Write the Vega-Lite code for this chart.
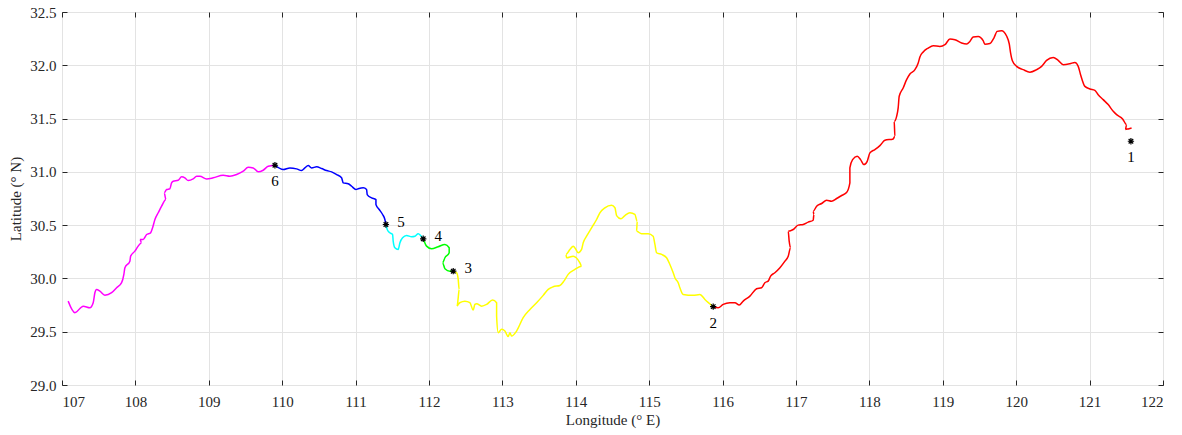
{
  "$schema": "https://vega.github.io/schema/vega-lite/v6.json",
  "autosize": {"type": "none"},
  "width": 1101,
  "height": 373,
  "padding": {"left": 62, "top": 12, "right": 19, "bottom": 50},
  "background": "white",
  "config": {
    "view": {"stroke": "#262626", "strokeWidth": 1},
    "font": "Liberation Serif",
    "axis": {
      "labelFont": "Liberation Serif",
      "titleFont": "Liberation Serif",
      "labelFontSize": 15,
      "titleFontSize": 15,
      "titleFontWeight": "normal",
      "labelColor": "#262626",
      "titleColor": "#262626",
      "domainColor": "#262626",
      "tickColor": "#262626",
      "gridColor": "#e3e3e3",
      "gridWidth": 1
    }
  },
  "datasets": {
    "route": [
      {"seg": "6–W", "i": 1, "lon": 107.084, "lat": 29.787},
      {"seg": "6–W", "i": 2, "lon": 107.176, "lat": 29.679},
      {"seg": "6–W", "i": 3, "lon": 107.289, "lat": 29.740},
      {"seg": "6–W", "i": 4, "lon": 107.380, "lat": 29.725},
      {"seg": "6–W", "i": 5, "lon": 107.425, "lat": 29.772},
      {"seg": "6–W", "i": 6, "lon": 107.448, "lat": 29.866},
      {"seg": "6–W", "i": 7, "lon": 107.471, "lat": 29.897},
      {"seg": "6–W", "i": 8, "lon": 107.516, "lat": 29.881},
      {"seg": "6–W", "i": 9, "lon": 107.584, "lat": 29.843},
      {"seg": "6–W", "i": 10, "lon": 107.676, "lat": 29.866},
      {"seg": "6–W", "i": 11, "lon": 107.744, "lat": 29.913},
      {"seg": "6–W", "i": 12, "lon": 107.812, "lat": 29.960},
      {"seg": "6–W", "i": 13, "lon": 107.843, "lat": 30.038},
      {"seg": "6–W", "i": 14, "lon": 107.857, "lat": 30.100},
      {"seg": "6–W", "i": 15, "lon": 107.925, "lat": 30.162},
      {"seg": "6–W", "i": 16, "lon": 107.935, "lat": 30.209},
      {"seg": "6–W", "i": 17, "lon": 107.993, "lat": 30.256},
      {"seg": "6–W", "i": 18, "lon": 108.038, "lat": 30.303},
      {"seg": "6–W", "i": 19, "lon": 108.084, "lat": 30.335},
      {"seg": "6–W", "i": 20, "lon": 108.061, "lat": 30.366},
      {"seg": "6–W", "i": 21, "lon": 108.106, "lat": 30.366},
      {"seg": "6–W", "i": 22, "lon": 108.153, "lat": 30.412},
      {"seg": "6–W", "i": 23, "lon": 108.207, "lat": 30.428},
      {"seg": "6–W", "i": 24, "lon": 108.234, "lat": 30.475},
      {"seg": "6–W", "i": 25, "lon": 108.266, "lat": 30.553},
      {"seg": "6–W", "i": 26, "lon": 108.311, "lat": 30.616},
      {"seg": "6–W", "i": 27, "lon": 108.357, "lat": 30.678},
      {"seg": "6–W", "i": 28, "lon": 108.416, "lat": 30.740},
      {"seg": "6–W", "i": 29, "lon": 108.392, "lat": 30.803},
      {"seg": "6–W", "i": 30, "lon": 108.425, "lat": 30.834},
      {"seg": "6–W", "i": 31, "lon": 108.470, "lat": 30.841},
      {"seg": "6–W", "i": 32, "lon": 108.493, "lat": 30.897},
      {"seg": "6–W", "i": 33, "lon": 108.515, "lat": 30.912},
      {"seg": "6–W", "i": 34, "lon": 108.583, "lat": 30.921},
      {"seg": "6–W", "i": 35, "lon": 108.629, "lat": 30.953},
      {"seg": "6–W", "i": 36, "lon": 108.674, "lat": 30.944},
      {"seg": "6–W", "i": 37, "lon": 108.719, "lat": 30.918},
      {"seg": "6–W", "i": 38, "lon": 108.787, "lat": 30.934},
      {"seg": "6–W", "i": 39, "lon": 108.834, "lat": 30.959},
      {"seg": "6–W", "i": 40, "lon": 108.879, "lat": 30.959},
      {"seg": "6–W", "i": 41, "lon": 108.970, "lat": 30.934},
      {"seg": "6–W", "i": 42, "lon": 109.060, "lat": 30.944},
      {"seg": "6–W", "i": 43, "lon": 109.196, "lat": 30.968},
      {"seg": "6–W", "i": 44, "lon": 109.287, "lat": 30.959},
      {"seg": "6–W", "i": 45, "lon": 109.379, "lat": 30.975},
      {"seg": "6–W", "i": 46, "lon": 109.469, "lat": 31.006},
      {"seg": "6–W", "i": 47, "lon": 109.537, "lat": 31.043},
      {"seg": "6–W", "i": 48, "lon": 109.605, "lat": 31.037},
      {"seg": "6–W", "i": 49, "lon": 109.673, "lat": 31.000},
      {"seg": "6–W", "i": 50, "lon": 109.741, "lat": 31.015},
      {"seg": "6–W", "i": 51, "lon": 109.809, "lat": 31.052},
      {"seg": "6–W", "i": 52, "lon": 109.901, "lat": 31.062},

      {"seg": "5–6", "i": 1, "lon": 109.901, "lat": 31.062},
      {"seg": "5–6", "i": 2, "lon": 110.014, "lat": 31.022},
      {"seg": "5–6", "i": 3, "lon": 110.105, "lat": 31.037},
      {"seg": "5–6", "i": 4, "lon": 110.196, "lat": 31.028},
      {"seg": "5–6", "i": 5, "lon": 110.264, "lat": 31.012},
      {"seg": "5–6", "i": 6, "lon": 110.309, "lat": 31.037},
      {"seg": "5–6", "i": 7, "lon": 110.354, "lat": 31.059},
      {"seg": "5–6", "i": 8, "lon": 110.401, "lat": 31.037},
      {"seg": "5–6", "i": 9, "lon": 110.469, "lat": 31.047},
      {"seg": "5–6", "i": 10, "lon": 110.537, "lat": 31.031},
      {"seg": "5–6", "i": 11, "lon": 110.605, "lat": 31.012},
      {"seg": "5–6", "i": 12, "lon": 110.673, "lat": 31.000},
      {"seg": "5–6", "i": 13, "lon": 110.741, "lat": 30.975},
      {"seg": "5–6", "i": 14, "lon": 110.809, "lat": 30.944},
      {"seg": "5–6", "i": 15, "lon": 110.831, "lat": 30.897},
      {"seg": "5–6", "i": 16, "lon": 110.899, "lat": 30.888},
      {"seg": "5–6", "i": 17, "lon": 110.946, "lat": 30.865},
      {"seg": "5–6", "i": 18, "lon": 111.004, "lat": 30.834},
      {"seg": "5–6", "i": 19, "lon": 111.035, "lat": 30.841},
      {"seg": "5–6", "i": 20, "lon": 111.104, "lat": 30.850},
      {"seg": "5–6", "i": 21, "lon": 111.150, "lat": 30.834},
      {"seg": "5–6", "i": 22, "lon": 111.158, "lat": 30.787},
      {"seg": "5–6", "i": 23, "lon": 111.218, "lat": 30.756},
      {"seg": "5–6", "i": 24, "lon": 111.277, "lat": 30.740},
      {"seg": "5–6", "i": 25, "lon": 111.277, "lat": 30.694},
      {"seg": "5–6", "i": 26, "lon": 111.322, "lat": 30.647},
      {"seg": "5–6", "i": 27, "lon": 111.368, "lat": 30.600},
      {"seg": "5–6", "i": 28, "lon": 111.399, "lat": 30.553},
      {"seg": "5–6", "i": 29, "lon": 111.413, "lat": 30.506},

      {"seg": "4–5", "i": 1, "lon": 111.413, "lat": 30.506},
      {"seg": "4–5", "i": 2, "lon": 111.431, "lat": 30.459},
      {"seg": "4–5", "i": 3, "lon": 111.467, "lat": 30.428},
      {"seg": "4–5", "i": 4, "lon": 111.504, "lat": 30.412},
      {"seg": "4–5", "i": 5, "lon": 111.512, "lat": 30.350},
      {"seg": "4–5", "i": 6, "lon": 111.535, "lat": 30.288},
      {"seg": "4–5", "i": 7, "lon": 111.580, "lat": 30.272},
      {"seg": "4–5", "i": 8, "lon": 111.604, "lat": 30.335},
      {"seg": "4–5", "i": 9, "lon": 111.640, "lat": 30.381},
      {"seg": "4–5", "i": 10, "lon": 111.695, "lat": 30.403},
      {"seg": "4–5", "i": 11, "lon": 111.763, "lat": 30.391},
      {"seg": "4–5", "i": 12, "lon": 111.808, "lat": 30.396},
      {"seg": "4–5", "i": 13, "lon": 111.853, "lat": 30.419},
      {"seg": "4–5", "i": 14, "lon": 111.886, "lat": 30.403},
      {"seg": "4–5", "i": 15, "lon": 111.921, "lat": 30.372},

      {"seg": "3–4", "i": 1, "lon": 111.921, "lat": 30.372},
      {"seg": "3–4", "i": 2, "lon": 111.967, "lat": 30.303},
      {"seg": "3–4", "i": 3, "lon": 112.035, "lat": 30.278},
      {"seg": "3–4", "i": 4, "lon": 112.125, "lat": 30.297},
      {"seg": "3–4", "i": 5, "lon": 112.217, "lat": 30.319},
      {"seg": "3–4", "i": 6, "lon": 112.275, "lat": 30.288},
      {"seg": "3–4", "i": 7, "lon": 112.275, "lat": 30.241},
      {"seg": "3–4", "i": 8, "lon": 112.217, "lat": 30.194},
      {"seg": "3–4", "i": 9, "lon": 112.185, "lat": 30.147},
      {"seg": "3–4", "i": 10, "lon": 112.217, "lat": 30.091},
      {"seg": "3–4", "i": 11, "lon": 112.285, "lat": 30.068},
      {"seg": "3–4", "i": 12, "lon": 112.330, "lat": 30.068},

      {"seg": "2–3", "i": 1, "lon": 112.330, "lat": 30.068},
      {"seg": "2–3", "i": 2, "lon": 112.376, "lat": 30.053},
      {"seg": "2–3", "i": 3, "lon": 112.398, "lat": 29.991},
      {"seg": "2–3", "i": 4, "lon": 112.411, "lat": 29.897},
      {"seg": "2–3", "i": 5, "lon": 112.398, "lat": 29.819},
      {"seg": "2–3", "i": 6, "lon": 112.384, "lat": 29.740},
      {"seg": "2–3", "i": 7, "lon": 112.421, "lat": 29.772},
      {"seg": "2–3", "i": 8, "lon": 112.489, "lat": 29.787},
      {"seg": "2–3", "i": 9, "lon": 112.557, "lat": 29.772},
      {"seg": "2–3", "i": 10, "lon": 112.602, "lat": 29.703},
      {"seg": "2–3", "i": 11, "lon": 112.625, "lat": 29.756},
      {"seg": "2–3", "i": 12, "lon": 112.649, "lat": 29.763},
      {"seg": "2–3", "i": 13, "lon": 112.717, "lat": 29.740},
      {"seg": "2–3", "i": 14, "lon": 112.785, "lat": 29.756},
      {"seg": "2–3", "i": 15, "lon": 112.866, "lat": 29.797},
      {"seg": "2–3", "i": 16, "lon": 112.921, "lat": 29.772},
      {"seg": "2–3", "i": 17, "lon": 112.921, "lat": 29.647},
      {"seg": "2–3", "i": 18, "lon": 112.943, "lat": 29.491},
      {"seg": "2–3", "i": 19, "lon": 112.989, "lat": 29.522},
      {"seg": "2–3", "i": 20, "lon": 113.034, "lat": 29.506},
      {"seg": "2–3", "i": 21, "lon": 113.079, "lat": 29.454},
      {"seg": "2–3", "i": 22, "lon": 113.102, "lat": 29.491},
      {"seg": "2–3", "i": 23, "lon": 113.125, "lat": 29.459},
      {"seg": "2–3", "i": 24, "lon": 113.193, "lat": 29.506},
      {"seg": "2–3", "i": 25, "lon": 113.283, "lat": 29.632},
      {"seg": "2–3", "i": 26, "lon": 113.375, "lat": 29.709},
      {"seg": "2–3", "i": 27, "lon": 113.466, "lat": 29.772},
      {"seg": "2–3", "i": 28, "lon": 113.556, "lat": 29.841},
      {"seg": "2–3", "i": 29, "lon": 113.624, "lat": 29.897},
      {"seg": "2–3", "i": 30, "lon": 113.692, "lat": 29.922},
      {"seg": "2–3", "i": 31, "lon": 113.783, "lat": 29.934},
      {"seg": "2–3", "i": 32, "lon": 113.838, "lat": 29.975},
      {"seg": "2–3", "i": 33, "lon": 113.896, "lat": 30.038},
      {"seg": "2–3", "i": 34, "lon": 113.988, "lat": 30.084},
      {"seg": "2–3", "i": 35, "lon": 114.079, "lat": 30.115},
      {"seg": "2–3", "i": 36, "lon": 114.056, "lat": 30.147},
      {"seg": "2–3", "i": 37, "lon": 113.965, "lat": 30.209},
      {"seg": "2–3", "i": 38, "lon": 113.875, "lat": 30.194},
      {"seg": "2–3", "i": 39, "lon": 113.865, "lat": 30.225},
      {"seg": "2–3", "i": 40, "lon": 113.920, "lat": 30.272},
      {"seg": "2–3", "i": 41, "lon": 113.965, "lat": 30.303},
      {"seg": "2–3", "i": 42, "lon": 114.001, "lat": 30.272},
      {"seg": "2–3", "i": 43, "lon": 114.033, "lat": 30.241},
      {"seg": "2–3", "i": 44, "lon": 114.079, "lat": 30.272},
      {"seg": "2–3", "i": 45, "lon": 114.101, "lat": 30.335},
      {"seg": "2–3", "i": 46, "lon": 114.147, "lat": 30.396},
      {"seg": "2–3", "i": 47, "lon": 114.215, "lat": 30.475},
      {"seg": "2–3", "i": 48, "lon": 114.283, "lat": 30.553},
      {"seg": "2–3", "i": 49, "lon": 114.328, "lat": 30.616},
      {"seg": "2–3", "i": 50, "lon": 114.396, "lat": 30.663},
      {"seg": "2–3", "i": 51, "lon": 114.488, "lat": 30.687},
      {"seg": "2–3", "i": 52, "lon": 114.533, "lat": 30.663},
      {"seg": "2–3", "i": 53, "lon": 114.556, "lat": 30.590},
      {"seg": "2–3", "i": 54, "lon": 114.614, "lat": 30.560},
      {"seg": "2–3", "i": 55, "lon": 114.669, "lat": 30.590},
      {"seg": "2–3", "i": 56, "lon": 114.737, "lat": 30.616},
      {"seg": "2–3", "i": 57, "lon": 114.805, "lat": 30.600},
      {"seg": "2–3", "i": 58, "lon": 114.837, "lat": 30.537},
      {"seg": "2–3", "i": 59, "lon": 114.828, "lat": 30.443},
      {"seg": "2–3", "i": 60, "lon": 114.896, "lat": 30.419},
      {"seg": "2–3", "i": 61, "lon": 114.986, "lat": 30.419},
      {"seg": "2–3", "i": 62, "lon": 115.054, "lat": 30.396},
      {"seg": "2–3", "i": 63, "lon": 115.078, "lat": 30.319},
      {"seg": "2–3", "i": 64, "lon": 115.101, "lat": 30.241},
      {"seg": "2–3", "i": 65, "lon": 115.169, "lat": 30.225},
      {"seg": "2–3", "i": 66, "lon": 115.237, "lat": 30.194},
      {"seg": "2–3", "i": 67, "lon": 115.282, "lat": 30.131},
      {"seg": "2–3", "i": 68, "lon": 115.327, "lat": 30.053},
      {"seg": "2–3", "i": 69, "lon": 115.350, "lat": 30.007},
      {"seg": "2–3", "i": 70, "lon": 115.395, "lat": 29.960},
      {"seg": "2–3", "i": 71, "lon": 115.418, "lat": 29.913},
      {"seg": "2–3", "i": 72, "lon": 115.463, "lat": 29.850},
      {"seg": "2–3", "i": 73, "lon": 115.599, "lat": 29.841},
      {"seg": "2–3", "i": 74, "lon": 115.691, "lat": 29.850},
      {"seg": "2–3", "i": 75, "lon": 115.759, "lat": 29.803},
      {"seg": "2–3", "i": 76, "lon": 115.872, "lat": 29.735},

      {"seg": "1–2", "i": 1, "lon": 115.872, "lat": 29.735},
      {"seg": "1–2", "i": 2, "lon": 115.940, "lat": 29.725},
      {"seg": "1–2", "i": 3, "lon": 116.008, "lat": 29.756},
      {"seg": "1–2", "i": 4, "lon": 116.099, "lat": 29.772},
      {"seg": "1–2", "i": 5, "lon": 116.168, "lat": 29.772},
      {"seg": "1–2", "i": 6, "lon": 116.226, "lat": 29.750},
      {"seg": "1–2", "i": 7, "lon": 116.281, "lat": 29.787},
      {"seg": "1–2", "i": 8, "lon": 116.372, "lat": 29.834},
      {"seg": "1–2", "i": 9, "lon": 116.463, "lat": 29.903},
      {"seg": "1–2", "i": 10, "lon": 116.531, "lat": 29.913},
      {"seg": "1–2", "i": 11, "lon": 116.576, "lat": 29.960},
      {"seg": "1–2", "i": 12, "lon": 116.621, "lat": 29.975},
      {"seg": "1–2", "i": 13, "lon": 116.654, "lat": 30.022},
      {"seg": "1–2", "i": 14, "lon": 116.712, "lat": 30.053},
      {"seg": "1–2", "i": 15, "lon": 116.781, "lat": 30.100},
      {"seg": "1–2", "i": 16, "lon": 116.849, "lat": 30.162},
      {"seg": "1–2", "i": 17, "lon": 116.894, "lat": 30.209},
      {"seg": "1–2", "i": 18, "lon": 116.926, "lat": 30.288},
      {"seg": "1–2", "i": 19, "lon": 116.907, "lat": 30.350},
      {"seg": "1–2", "i": 20, "lon": 116.894, "lat": 30.443},
      {"seg": "1–2", "i": 21, "lon": 116.962, "lat": 30.459},
      {"seg": "1–2", "i": 22, "lon": 117.030, "lat": 30.500},
      {"seg": "1–2", "i": 23, "lon": 117.098, "lat": 30.506},
      {"seg": "1–2", "i": 24, "lon": 117.166, "lat": 30.528},
      {"seg": "1–2", "i": 25, "lon": 117.234, "lat": 30.546},
      {"seg": "1–2", "i": 26, "lon": 117.244, "lat": 30.600},
      {"seg": "1–2", "i": 27, "lon": 117.234, "lat": 30.631},
      {"seg": "1–2", "i": 28, "lon": 117.281, "lat": 30.678},
      {"seg": "1–2", "i": 29, "lon": 117.349, "lat": 30.703},
      {"seg": "1–2", "i": 30, "lon": 117.417, "lat": 30.734},
      {"seg": "1–2", "i": 31, "lon": 117.485, "lat": 30.725},
      {"seg": "1–2", "i": 32, "lon": 117.553, "lat": 30.750},
      {"seg": "1–2", "i": 33, "lon": 117.621, "lat": 30.778},
      {"seg": "1–2", "i": 34, "lon": 117.689, "lat": 30.806},
      {"seg": "1–2", "i": 35, "lon": 117.734, "lat": 30.897},
      {"seg": "1–2", "i": 36, "lon": 117.734, "lat": 31.037},
      {"seg": "1–2", "i": 37, "lon": 117.771, "lat": 31.115},
      {"seg": "1–2", "i": 38, "lon": 117.834, "lat": 31.146},
      {"seg": "1–2", "i": 39, "lon": 117.880, "lat": 31.115},
      {"seg": "1–2", "i": 40, "lon": 117.925, "lat": 31.068},
      {"seg": "1–2", "i": 41, "lon": 117.970, "lat": 31.099},
      {"seg": "1–2", "i": 42, "lon": 118.007, "lat": 31.178},
      {"seg": "1–2", "i": 43, "lon": 118.075, "lat": 31.209},
      {"seg": "1–2", "i": 44, "lon": 118.143, "lat": 31.246},
      {"seg": "1–2", "i": 45, "lon": 118.211, "lat": 31.296},
      {"seg": "1–2", "i": 46, "lon": 118.324, "lat": 31.309},
      {"seg": "1–2", "i": 47, "lon": 118.347, "lat": 31.334},
      {"seg": "1–2", "i": 48, "lon": 118.338, "lat": 31.474},
      {"seg": "1–2", "i": 49, "lon": 118.371, "lat": 31.521},
      {"seg": "1–2", "i": 50, "lon": 118.392, "lat": 31.600},
      {"seg": "1–2", "i": 51, "lon": 118.406, "lat": 31.709},
      {"seg": "1–2", "i": 52, "lon": 118.460, "lat": 31.787},
      {"seg": "1–2", "i": 53, "lon": 118.507, "lat": 31.865},
      {"seg": "1–2", "i": 54, "lon": 118.552, "lat": 31.918},
      {"seg": "1–2", "i": 55, "lon": 118.620, "lat": 31.959},
      {"seg": "1–2", "i": 56, "lon": 118.665, "lat": 32.022},
      {"seg": "1–2", "i": 57, "lon": 118.688, "lat": 32.078},
      {"seg": "1–2", "i": 58, "lon": 118.733, "lat": 32.125},
      {"seg": "1–2", "i": 59, "lon": 118.801, "lat": 32.162},
      {"seg": "1–2", "i": 60, "lon": 118.869, "lat": 32.184},
      {"seg": "1–2", "i": 61, "lon": 118.960, "lat": 32.177},
      {"seg": "1–2", "i": 62, "lon": 119.029, "lat": 32.193},
      {"seg": "1–2", "i": 63, "lon": 119.097, "lat": 32.246},
      {"seg": "1–2", "i": 64, "lon": 119.165, "lat": 32.240},
      {"seg": "1–2", "i": 65, "lon": 119.256, "lat": 32.209},
      {"seg": "1–2", "i": 66, "lon": 119.324, "lat": 32.200},
      {"seg": "1–2", "i": 67, "lon": 119.369, "lat": 32.224},
      {"seg": "1–2", "i": 68, "lon": 119.414, "lat": 32.265},
      {"seg": "1–2", "i": 69, "lon": 119.482, "lat": 32.271},
      {"seg": "1–2", "i": 70, "lon": 119.550, "lat": 32.231},
      {"seg": "1–2", "i": 71, "lon": 119.573, "lat": 32.198},
      {"seg": "1–2", "i": 72, "lon": 119.642, "lat": 32.204},
      {"seg": "1–2", "i": 73, "lon": 119.696, "lat": 32.256},
      {"seg": "1–2", "i": 74, "lon": 119.741, "lat": 32.318},
      {"seg": "1–2", "i": 75, "lon": 119.801, "lat": 32.324},
      {"seg": "1–2", "i": 76, "lon": 119.869, "lat": 32.275},
      {"seg": "1–2", "i": 77, "lon": 119.905, "lat": 32.202},
      {"seg": "1–2", "i": 78, "lon": 119.924, "lat": 32.115},
      {"seg": "1–2", "i": 79, "lon": 119.948, "lat": 32.043},
      {"seg": "1–2", "i": 80, "lon": 120.006, "lat": 31.990},
      {"seg": "1–2", "i": 81, "lon": 120.095, "lat": 31.959},
      {"seg": "1–2", "i": 82, "lon": 120.187, "lat": 31.935},
      {"seg": "1–2", "i": 83, "lon": 120.278, "lat": 31.959},
      {"seg": "1–2", "i": 84, "lon": 120.346, "lat": 31.990},
      {"seg": "1–2", "i": 85, "lon": 120.414, "lat": 32.046},
      {"seg": "1–2", "i": 86, "lon": 120.504, "lat": 32.074},
      {"seg": "1–2", "i": 87, "lon": 120.572, "lat": 32.046},
      {"seg": "1–2", "i": 88, "lon": 120.640, "lat": 32.006},
      {"seg": "1–2", "i": 89, "lon": 120.732, "lat": 32.015},
      {"seg": "1–2", "i": 90, "lon": 120.800, "lat": 32.027},
      {"seg": "1–2", "i": 91, "lon": 120.845, "lat": 31.990},
      {"seg": "1–2", "i": 92, "lon": 120.877, "lat": 31.912},
      {"seg": "1–2", "i": 93, "lon": 120.936, "lat": 31.802},
      {"seg": "1–2", "i": 94, "lon": 121.004, "lat": 31.778},
      {"seg": "1–2", "i": 95, "lon": 121.072, "lat": 31.765},
      {"seg": "1–2", "i": 96, "lon": 121.117, "lat": 31.724},
      {"seg": "1–2", "i": 97, "lon": 121.185, "lat": 31.678},
      {"seg": "1–2", "i": 98, "lon": 121.253, "lat": 31.631},
      {"seg": "1–2", "i": 99, "lon": 121.322, "lat": 31.568},
      {"seg": "1–2", "i": 100, "lon": 121.368, "lat": 31.537},
      {"seg": "1–2", "i": 101, "lon": 121.450, "lat": 31.497},
      {"seg": "1–2", "i": 102, "lon": 121.504, "lat": 31.443},
      {"seg": "1–2", "i": 103, "lon": 121.488, "lat": 31.396},
      {"seg": "1–2", "i": 104, "lon": 121.526, "lat": 31.403},
      {"seg": "1–2", "i": 105, "lon": 121.572, "lat": 31.412}
    ],
    "marks": [
      {"id": "1", "lon": 121.563, "lat": 31.287},
      {"id": "2", "lon": 115.872, "lat": 29.735},
      {"id": "3", "lon": 112.330, "lat": 30.068},
      {"id": "4", "lon": 111.921, "lat": 30.372},
      {"id": "5", "lon": 111.413, "lat": 30.506},
      {"id": "6", "lon": 109.901, "lat": 31.062}
    ]
  },
  "layer": [
    {
      "data": {"name": "route"},
      "mark": {"type": "line", "strokeWidth": 1.5, "interpolate": "monotone"},
      "encoding": {
        "x": {"field": "lon", "type": "quantitative",
              "scale": {"domain": [107, 122], "nice": false, "zero": false},
              "axis": {"title": "Longitude (° E)", "values": [107,108,109,110,111,112,113,114,115,116,117,118,119,120,121,122],
                       "format": "d", "grid": true, "tickSize": -5, "labelPadding": 14, "titlePadding": 3, "domain": false}},
        "y": {"field": "lat", "type": "quantitative",
              "scale": {"domain": [29, 32.5], "nice": false, "zero": false},
              "axis": {"title": "Latitude (° N)", "values": [29,29.5,30,30.5,31,31.5,32,32.5],
                       "format": ".1f", "grid": true, "tickSize": -5, "labelPadding": 11, "titlePadding": 6, "domain": false}},
        "color": {"field": "seg", "type": "nominal", "legend": null,
                  "scale": {"domain": ["1–2", "2–3", "3–4", "4–5", "5–6", "6–W"],
                            "range": ["#ff0000", "#ffff00", "#00ff00", "#00ffff", "#0000ff", "#ff00ff"]}},
        "order": {"field": "i", "type": "quantitative"}
      }
    },
    {
      "data": {"name": "marks"},
      "mark": {"type": "point", "shape": "M -1 0 L 1 0 M 0 -1 L 0 1 M -0.72 -0.72 L 0.72 0.72 M -0.72 0.72 L 0.72 -0.72",
               "filled": false, "stroke": "#000000", "strokeWidth": 1.2, "size": 40, "opacity": 1},
      "encoding": {
        "x": {"field": "lon", "type": "quantitative",
              "axis": {"orient": "top", "title": null, "labels": false, "grid": false, "tickSize": -5, "domain": false,
                       "values": [107,108,109,110,111,112,113,114,115,116,117,118,119,120,121,122]}},
        "y": {"field": "lat", "type": "quantitative",
              "axis": {"orient": "right", "title": null, "labels": false, "grid": false, "tickSize": -5, "domain": false,
                       "values": [29,29.5,30,30.5,31,31.5,32,32.5]}}
      }
    },
    {
      "data": {"name": "marks"},
      "transform": [{"filter": "datum.id == '1' || datum.id == '2' || datum.id == '6'"}],
      "mark": {"type": "text", "font": "Liberation Serif", "fontSize": 15, "color": "#000000", "dy": 16, "baseline": "middle"},
      "encoding": {
        "x": {"field": "lon", "type": "quantitative", "axis": null},
        "y": {"field": "lat", "type": "quantitative", "axis": null},
        "text": {"field": "id"}
      }
    },
    {
      "data": {"name": "marks"},
      "transform": [{"filter": "datum.id == '3' || datum.id == '4' || datum.id == '5'"}],
      "mark": {"type": "text", "font": "Liberation Serif", "fontSize": 15, "color": "#000000", "dx": 15, "dy": -3, "baseline": "middle"},
      "encoding": {
        "x": {"field": "lon", "type": "quantitative", "axis": null},
        "y": {"field": "lat", "type": "quantitative", "axis": null},
        "text": {"field": "id"}
      }
    }
  ],
  "resolve": {"axis": {"x": "independent", "y": "independent"}}
}
